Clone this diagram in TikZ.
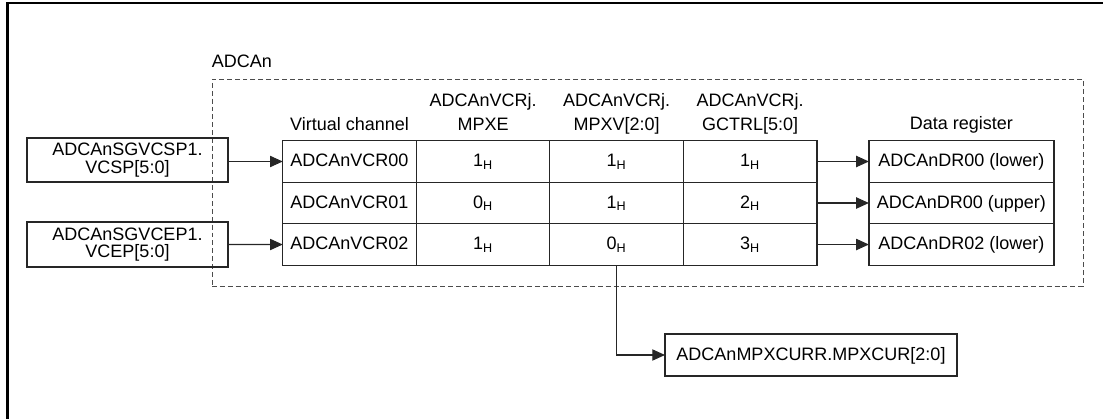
\documentclass[tikz,border=0pt]{standalone}
\usepackage{fontspec}
\setmainfont{Liberation Sans}
\usetikzlibrary{arrows.meta, positioning, fit, backgrounds}

\begin{document}
\begin{tikzpicture}[
        x=0.025cm, y=-0.025cm,
        font=\fontsize{12.8}{17}\selectfont,
        reg_cell/.style={rectangle, draw=black!85, line width=0.9pt, outer sep=0pt, inner sep=0pt,
                         minimum width=3.3375cm, minimum height=1.0375cm, text height=0.72em, text depth=0pt},
        data_block/.style={reg_cell, minimum width=4.625cm},
        cur_block/.style={reg_cell, minimum width=7.3cm, minimum height=1.05cm},
        src_block/.style={rectangle, draw=black!85, line width=0.9pt, inner sep=0pt,
                          minimum width=5.025cm, minimum height=1.1cm, align=center,
                          font=\fontsize{12.8}{12.6}\selectfont},
        col_head/.style={inner sep=0pt, text depth=0pt, align=center},
        wrapper_box/.style={rectangle, draw=black!70, dash pattern=on 3.5pt off 2.1pt, line width=0.7pt, inner sep=0pt},
        frame_line/.style={line width=2.1pt, black},
        sig_line/.style={-{Triangle[length=9pt, width=8pt]}, line width=0.75pt, black!85}
    ]
    \useasboundingbox (0,0) rectangle (1103,419);

    % outer frame (only top and left edges are visible)
    \draw[frame_line] (7.7,419) -- (7.7,3) -- (1103,3);

    % sources
    \node[src_block] (sgvcsp) at (127.5,160) {ADCAnSGVCSP1.\\VCSP[5:0]};
    \node[src_block, minimum height=1.125cm] (sgvcep) at (127.5,244.5) {ADCAnSGVCEP1.\\VCEP[5:0]};

    % virtual channel table
    \node[reg_cell] (vcr0) at (349.5,161.5) {ADCAnVCR00};
    \node[reg_cell, right=0pt of vcr0] (mpxe0) {1\textsubscript{H}};
    \node[reg_cell, right=0pt of mpxe0] (mpxv0) {1\textsubscript{H}};
    \node[reg_cell, right=0pt of mpxv0] (gctrl0) {1\textsubscript{H}};

    \node[reg_cell, below=0pt of vcr0] (vcr1) {ADCAnVCR01};
    \node[reg_cell, right=0pt of vcr1] (mpxe1) {0\textsubscript{H}};
    \node[reg_cell, right=0pt of mpxe1] (mpxv1) {1\textsubscript{H}};
    \node[reg_cell, right=0pt of mpxv1] (gctrl1) {2\textsubscript{H}};

    \node[reg_cell, below=0pt of vcr1] (vcr2) {ADCAnVCR02};
    \node[reg_cell, right=0pt of vcr2] (mpxe2) {1\textsubscript{H}};
    \node[reg_cell, right=0pt of mpxe2] (mpxv2) {0\textsubscript{H}};
    \node[reg_cell, right=0pt of mpxv2] (gctrl2) {3\textsubscript{H}};

    % data registers
    \node[data_block, right=1.3cm of gctrl0] (dr0) {ADCAnDR00 (lower)};
    \node[data_block, below=0pt of dr0] (dr1) {ADCAnDR00 (upper)};
    \node[data_block, below=0pt of dr1] (dr2) {ADCAnDR02 (lower)};

    % column headers
    \node[col_head, above=0.25cm of vcr0] (h_vc) {Virtual channel};
    \node[col_head, above=0.25cm of mpxe0] (h_mpxe) {ADCAnVCRj.\\MPXE};
    \node[col_head, above=0.25cm of mpxv0] (h_mpxv) {ADCAnVCRj.\\MPXV[2:0]};
    \node[col_head, above=0.25cm of gctrl0] (h_gctrl) {ADCAnVCRj.\\GCTRL[5:0]};
    \node[col_head, above=0.275cm of dr0] (h_dr) {Data register};

    % ADCAn boundary
    \coordinate (wrap_nw) at (212,79);
    \coordinate (wrap_se) at (1083,286);
    \begin{scope}[on background layer]
        \node[wrapper_box, fit=(wrap_nw) (wrap_se)] (adcan) {};
    \end{scope}
    \node[col_head, above right=0.275cm and 0pt of adcan.north west] (adcan_lbl) {ADCAn};

    % current multiplexer register
    \node[cur_block] (mpxcur) at (811,355) {ADCAnMPXCURR.MPXCUR[2:0]};

    \draw[sig_line] (sgvcsp.east |- vcr0) -- (vcr0.west);
    \draw[sig_line] (sgvcep.east) -- (vcr2.west);
    \draw[sig_line] (gctrl0.east) -- (dr0.west);
    \draw[sig_line] (gctrl1.east) -- (dr1.west);
    \draw[sig_line] (gctrl2.east) -- (dr2.west);
    \draw[sig_line] (mpxv2.south) |- (mpxcur.west);
\end{tikzpicture}
\end{document}
